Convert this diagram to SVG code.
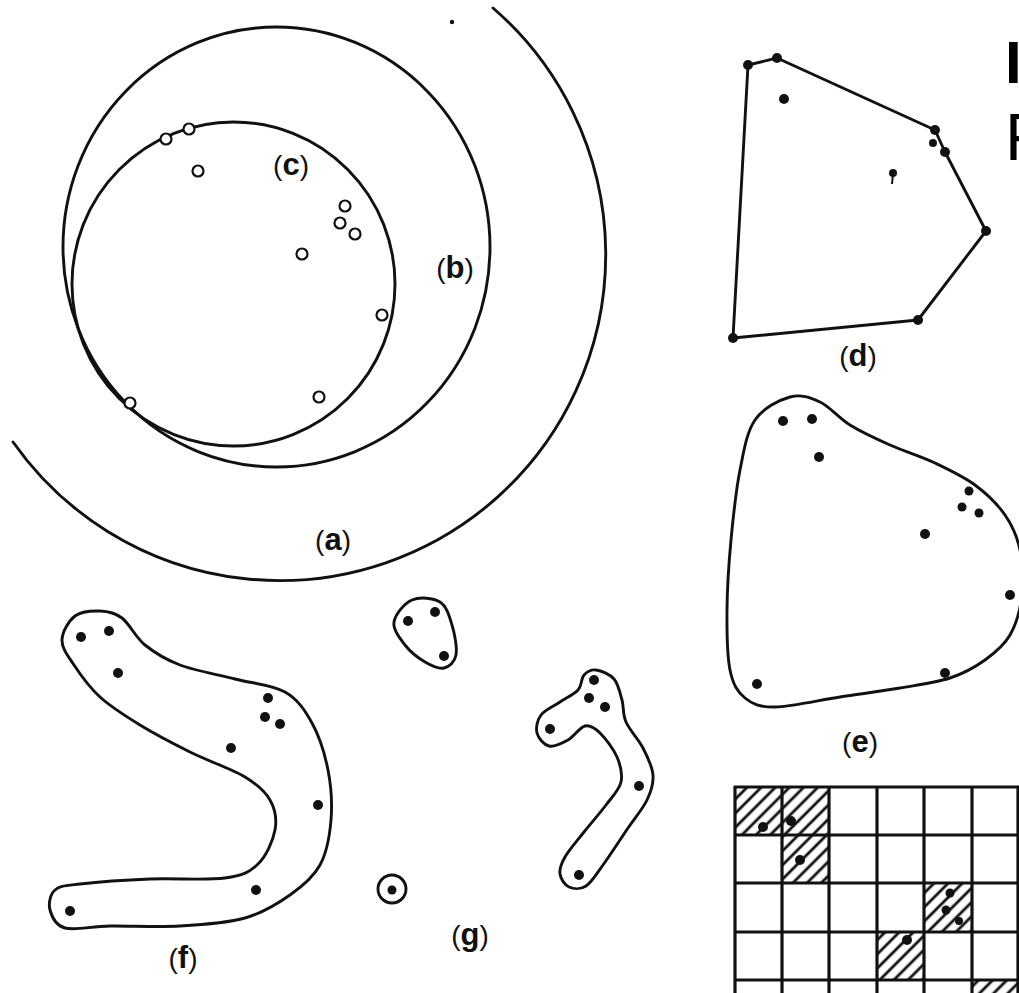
<svg xmlns="http://www.w3.org/2000/svg" width="1019" height="993" viewBox="0 0 1019 993">
<style>
.ln{fill:none;stroke:#111;stroke-width:2.9;stroke-linejoin:round;stroke-linecap:round}
.dot{fill:#111}
.oc{fill:#fff;stroke:#111;stroke-width:2.2}
.lbl{font-family:"Liberation Sans",Arial,sans-serif;font-size:28px;fill:#111;text-anchor:middle}
.lbl tspan.l{font-weight:bold;font-size:31px}
.grid{stroke:#111;stroke-width:3.2;fill:none}
</style>
<defs>
<pattern id="hatch" width="10" height="10" patternUnits="userSpaceOnUse" patternTransform="rotate(-45)">
<line x1="0" y1="5" x2="10" y2="5" stroke="#111" stroke-width="2.8"/>
</pattern>
</defs>
<rect width="1019" height="993" fill="#fff"/>

<g id="cut-text" font-family="'Liberation Sans',Arial,sans-serif" fill="#000">
<text x="1005" y="83" font-size="60" font-weight="bold">I</text>
<text x="1005" y="160" font-size="66">F</text>
</g>

<g id="circles">
<path id="arc-a" class="ln" d="M 13 442 A 326 326 0 1 0 493 8"/>
<ellipse id="circle-b" class="ln" cx="276.5" cy="247" rx="213.5" ry="220"/>
<ellipse id="circle-c" class="ln" cx="233.5" cy="284" rx="161.5" ry="162"/>
<g id="open-points">
<circle class="oc" cx="166" cy="139" r="5.5"/>
<circle class="oc" cx="189" cy="129" r="5.5"/>
<circle class="oc" cx="198" cy="171" r="5.5"/>
<circle class="oc" cx="345" cy="206" r="5.5"/>
<circle class="oc" cx="340" cy="223" r="5.5"/>
<circle class="oc" cx="355" cy="234" r="5.5"/>
<circle class="oc" cx="302" cy="254" r="5.5"/>
<circle class="oc" cx="382" cy="315" r="5.5"/>
<circle class="oc" cx="130" cy="403" r="5.5"/>
<circle class="oc" cx="319" cy="397" r="5.5"/>
</g>
<circle class="dot" cx="452" cy="22" r="2.2"/>
<text class="lbl" x="291" y="175">(<tspan class="l">c</tspan>)</text>
<text class="lbl" x="455" y="278">(<tspan class="l">b</tspan>)</text>
<text class="lbl" x="333" y="550">(<tspan class="l">a</tspan>)</text>
</g>

<g id="shape-d">
<polygon class="ln" points="748,65 777,58 935,130 945,152 986,231 918,320 733,338"/>
<circle class="dot" cx="748" cy="65" r="5"/>
<circle class="dot" cx="777" cy="58" r="5"/>
<circle class="dot" cx="935" cy="130" r="5"/>
<circle class="dot" cx="933" cy="143" r="4"/>
<circle class="dot" cx="945" cy="152" r="5"/>
<circle class="dot" cx="986" cy="231" r="5"/>
<circle class="dot" cx="918" cy="320" r="5"/>
<circle class="dot" cx="733" cy="338" r="5"/>
<circle class="dot" cx="784" cy="99" r="5"/>
<circle class="dot" cx="893" cy="173" r="4"/>
<line x1="893" y1="174" x2="892" y2="184" stroke="#111" stroke-width="2"/>
<text class="lbl" x="858" y="366">(<tspan class="l">d</tspan>)</text>
</g>

<g id="shape-e">
<path class="ln" d="M 790 397 C 800.8 394 810 397.3 820 402 C 830 406.7 838.3 417.8 850 425 C 861.7 432.2 875.8 438.7 890 445 C 904.2 451.3 920.8 456.3 935 463 C 949.2 469.7 963.3 476.3 975 485 C 986.7 493.7 997.5 504.2 1005 515 C 1012.5 525.8 1017.2 536.7 1020 550 C 1022.8 563.3 1023.7 580.8 1022 595 C 1020.3 609.2 1016.2 624.2 1010 635 C 1003.8 645.8 995 652.8 985 660 C 975 667.2 964.2 673.3 950 678 C 935.8 682.7 918.3 684.8 900 688 C 881.7 691.2 860.8 693.8 840 697 C 819.2 700.2 790.8 706.8 775 707 C 759.2 707.2 752.5 704.2 745 698 C 737.5 691.8 733 684.7 730 670 C 727 655.3 726.8 631.7 727 610 C 727.2 588.3 728.8 563.3 731 540 C 733.2 516.7 736 490 740 470 C 744 450 746.7 432.2 755 420 C 763.3 407.8 779.2 400 790 397 Z"/>
<circle class="dot" cx="783" cy="421" r="5"/>
<circle class="dot" cx="812" cy="419" r="5"/>
<circle class="dot" cx="819" cy="457" r="5"/>
<circle class="dot" cx="969" cy="491" r="4.5"/>
<circle class="dot" cx="962" cy="507" r="4.5"/>
<circle class="dot" cx="979" cy="513" r="4.5"/>
<circle class="dot" cx="925" cy="534" r="5"/>
<circle class="dot" cx="1010" cy="595" r="5"/>
<circle class="dot" cx="945" cy="673" r="5"/>
<circle class="dot" cx="757" cy="684" r="5"/>
<text class="lbl" x="860" y="752">(<tspan class="l">e</tspan>)</text>
</g>

<g id="shape-f">
<path class="ln" d="M 62 640 C 62.2 631.8 68.7 620.8 75 616 C 81.3 611.2 92.2 610.7 100 611 C 107.8 611.3 114.5 612.3 122 618 C 129.5 623.7 135.3 637.2 145 645 C 154.7 652.8 165 659.3 180 665 C 195 670.7 217.5 674.5 235 679 C 252.5 683.5 272.2 684.7 285 692 C 297.8 699.3 304.8 710 312 723 C 319.2 736 324.8 753.8 328 770 C 331.2 786.2 332.3 804.2 331 820 C 329.7 835.8 326.8 852.5 320 865 C 313.2 877.5 302.5 886.2 290 895 C 277.5 903.8 263.3 912.8 245 918 C 226.7 923.2 202.5 924.7 180 926 C 157.5 927.3 129.2 925.7 110 926 C 90.8 926.3 75 930.7 65 928 C 55 925.3 51.7 916.3 50 910 C 48.3 903.7 50 894.3 55 890 C 60 885.7 64.2 885.8 80 884 C 95.8 882.2 125.8 880 150 879 C 174.2 878 207 880.5 225 878 C 243 875.5 249.7 872 258 864 C 266.3 856 273 840.7 275 830 C 277 819.3 275 808.8 270 800 C 265 791.2 258.3 785 245 777 C 231.7 769 207.5 760.7 190 752 C 172.5 743.3 155 734.2 140 725 C 125 715.8 111 707 100 697 C 89 687 80.3 674.5 74 665 C 67.7 655.5 61.8 648.2 62 640 Z"/>
<circle class="dot" cx="81" cy="637" r="5"/>
<circle class="dot" cx="109" cy="631" r="5"/>
<circle class="dot" cx="118" cy="673" r="5"/>
<circle class="dot" cx="268" cy="698" r="5"/>
<circle class="dot" cx="265" cy="717" r="5"/>
<circle class="dot" cx="280" cy="724" r="5"/>
<circle class="dot" cx="231" cy="748" r="5"/>
<circle class="dot" cx="318" cy="805" r="5"/>
<circle class="dot" cx="256" cy="890" r="5"/>
<circle class="dot" cx="70" cy="911" r="5"/>
<text class="lbl" x="183" y="968">(<tspan class="l">f</tspan>)</text>
</g>

<g id="shape-g">
<path class="ln" d="M 412 600 C 419.7 596.7 433.3 597.8 440 602 C 446.7 606.2 449.3 616.2 452 625 C 454.7 633.8 457.3 647.8 456 655 C 454.7 662.2 449.2 666.8 444 668 C 438.8 669.2 431.5 665.8 425 662 C 418.5 658.2 410.2 651.7 405 645 C 399.8 638.3 392.8 629.5 394 622 C 395.2 614.5 404.3 603.3 412 600 Z"/>
<circle class="dot" cx="408" cy="621" r="5"/>
<circle class="dot" cx="435" cy="612" r="5"/>
<circle class="dot" cx="444" cy="656" r="5"/>
<circle class="ln" cx="392" cy="889" r="14"/>
<circle class="dot" cx="392" cy="890" r="4.5"/>
<path class="ln" d="M 596 670 C 601 670.7 609.7 674 614 679 C 618.3 684 620 692.8 622 700 C 624 707.2 622.5 714 626 722 C 629.5 730 638.5 739.2 643 748 C 647.5 756.8 652.3 766.3 653 775 C 653.7 783.7 651.2 791.2 647 800 C 642.8 808.8 635.3 817.2 628 828 C 620.7 838.8 610 855.3 603 865 C 596 874.7 591.7 882.3 586 886 C 580.3 889.7 573.3 889 569 887 C 564.7 885 560.7 879 560 874 C 559.3 869 561 864 565 857 C 569 850 577.2 840.7 584 832 C 590.8 823.3 599.8 813.3 606 805 C 612.2 796.7 619.2 790 621 782 C 622.8 774 620.5 765.2 617 757 C 613.5 748.8 605.3 738.2 600 733 C 594.7 727.8 590.3 724.8 585 726 C 579.7 727.2 574 736.7 568 740 C 562 743.3 554.2 747.2 549 746 C 543.8 744.8 538.3 738.2 537 733 C 535.7 727.8 537.2 720.2 541 715 C 544.8 709.8 553.8 706.2 560 702 C 566.2 697.8 574 694.5 578 690 C 582 685.5 581 678.3 584 675 C 587 671.7 591 669.3 596 670 Z"/>
<circle class="dot" cx="594" cy="680" r="5"/>
<circle class="dot" cx="589" cy="698" r="5"/>
<circle class="dot" cx="605" cy="707" r="5"/>
<circle class="dot" cx="550" cy="729" r="5"/>
<circle class="dot" cx="639" cy="786" r="5"/>
<circle class="dot" cx="579" cy="875" r="5"/>
<text class="lbl" x="470" y="945">(<tspan class="l">g</tspan>)</text>
</g>

<g id="grid-h">
<g id="hatched" fill="url(#hatch)">
<rect x="735" y="787" width="47" height="48"/>
<rect x="782" y="787" width="47" height="48"/>
<rect x="782" y="835" width="47" height="48"/>
<rect x="924" y="883" width="48" height="49"/>
<rect x="877" y="932" width="47" height="48"/>
<rect x="972" y="980" width="47" height="13"/>
</g>
<g class="grid">
<line x1="735" y1="786" x2="735" y2="993"/>
<line x1="782" y1="786" x2="782" y2="993"/>
<line x1="829" y1="786" x2="829" y2="993"/>
<line x1="877" y1="786" x2="877" y2="993"/>
<line x1="924" y1="786" x2="924" y2="993"/>
<line x1="972" y1="786" x2="972" y2="993"/>
<line x1="1018" y1="786" x2="1018" y2="993"/>
<line x1="734" y1="787" x2="1019" y2="787"/>
<line x1="734" y1="835" x2="1019" y2="835"/>
<line x1="734" y1="883" x2="1019" y2="883"/>
<line x1="734" y1="932" x2="1019" y2="932"/>
<line x1="734" y1="980" x2="1019" y2="980"/>
</g>
<circle class="dot" cx="763" cy="827" r="5"/>
<circle class="dot" cx="791" cy="821" r="5"/>
<circle class="dot" cx="800" cy="860" r="5"/>
<circle class="dot" cx="950" cy="893" r="4.5"/>
<circle class="dot" cx="946" cy="910" r="4.5"/>
<circle class="dot" cx="959" cy="921" r="4"/>
<circle class="dot" cx="907" cy="940" r="5"/>
</g>
</svg>
